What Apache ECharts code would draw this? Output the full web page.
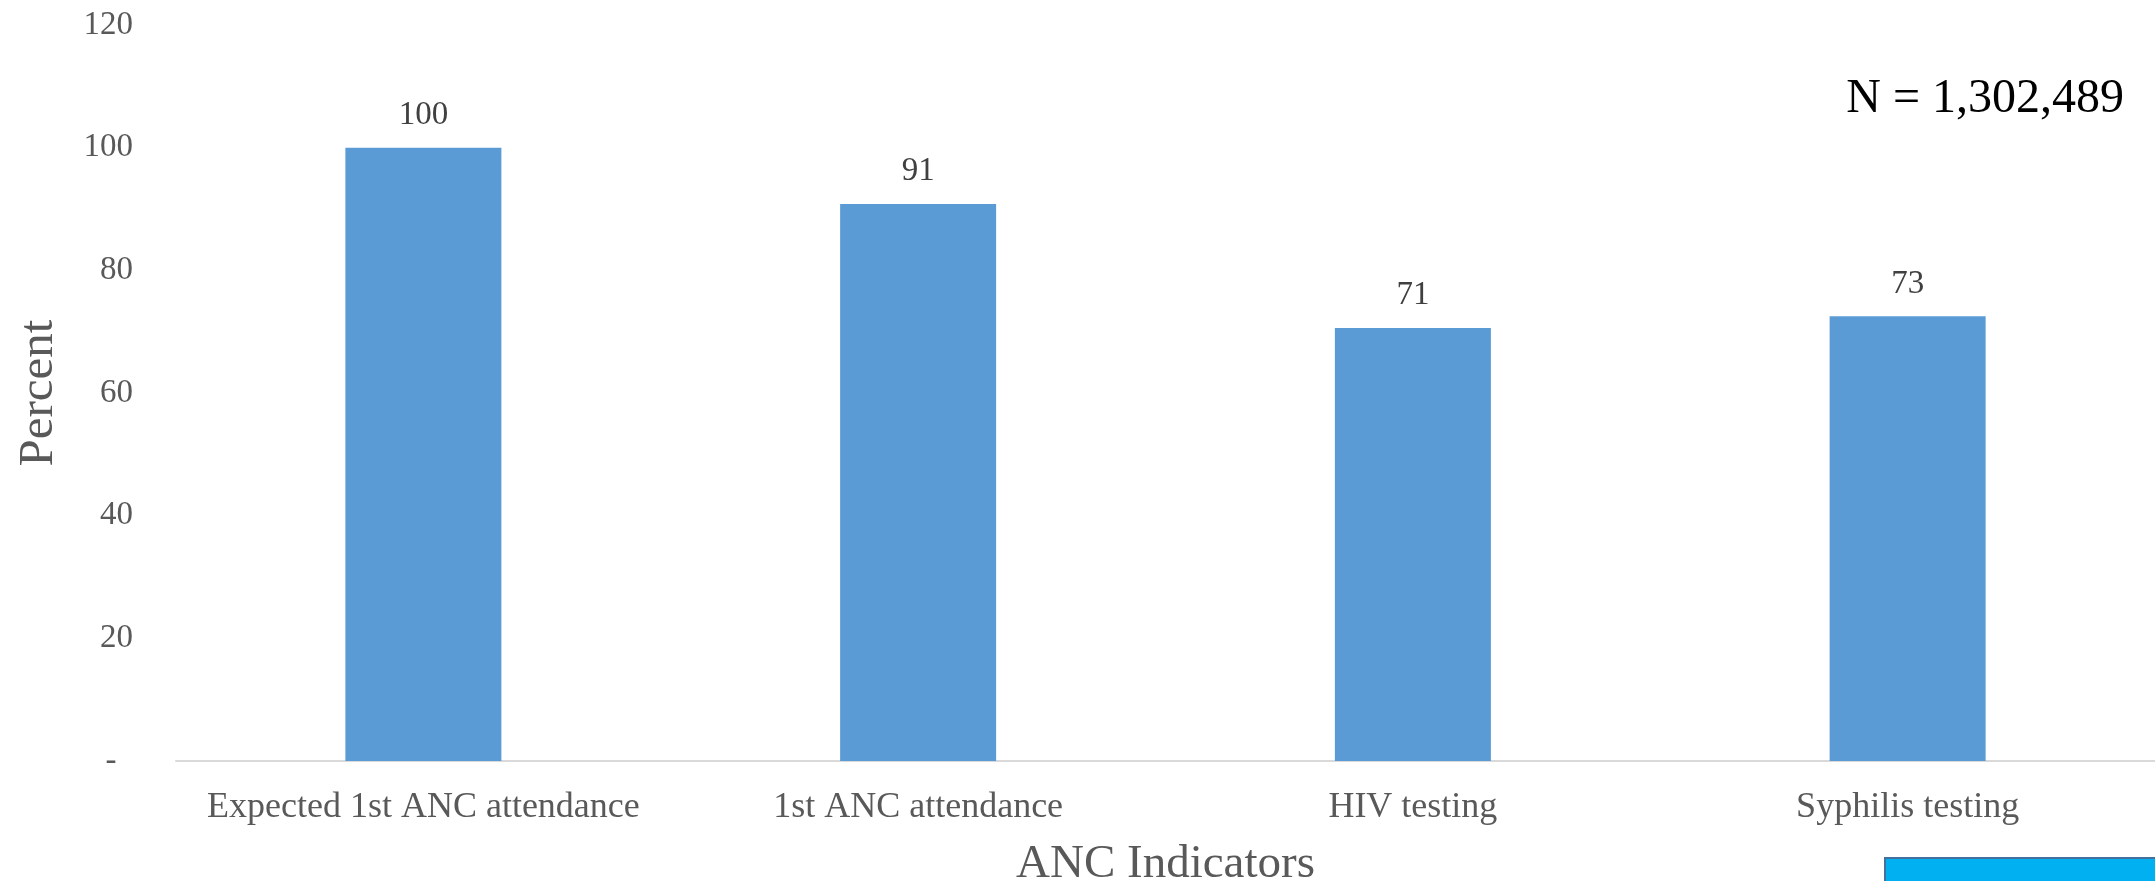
<!DOCTYPE html>
<html>
<head>
<meta charset="utf-8">
<script src="https://cdn.jsdelivr.net/npm/echarts@6/dist/echarts.min.js"></script>
<style>
html,body{margin:0;padding:0;background:#fff;}
#chart{width:2155px;height:881px;}
</style>
</head>
<body>
<div id="chart"></div>
<script>
const categories = ['Expected 1st ANC attendance', '1st ANC attendance', 'HIV testing', 'Syphilis testing'];
const percentValues = [100, 90.8, 70.6, 72.5];
const yTicks = [0, 20, 40, 60, 80, 100, 120];
const xAxisTitle = 'ANC Indicators';
const yAxisTitle = 'Percent';
const noteText = 'N = 1,302,489';

const FONT = '"Liberation Serif", "Times New Roman", serif';
const chart = echarts.init(document.getElementById('chart'), null, {renderer: 'canvas'});

chart.setOption({
  animation: false,
  backgroundColor: '#ffffff',
  grid: {left: 176, right: 0, top: 25, bottom: 120, containLabel: false, outerBoundsMode: 'none'},
  xAxis: {
    type: 'category',
    data: categories,
    axisLine: {show: true, lineStyle: {color: '#D9D9D9', width: 2}},
    axisTick: {show: false},
    axisLabel: {color: '#595959', fontFamily: FONT, fontSize: 36, margin: 29, interval: 0},
    name: xAxisTitle,
    nameLocation: 'middle',
    nameGap: 80,
    nameTextStyle: {color: '#595959', fontFamily: FONT, fontSize: 47}
  },
  yAxis: {
    type: 'value',
    min: yTicks[0],
    max: yTicks[yTicks.length - 1],
    interval: yTicks[1] - yTicks[0],
    axisLine: {show: false},
    axisTick: {show: false},
    splitLine: {show: false},
    axisLabel: {
      color: '#595959', fontFamily: FONT, fontSize: 33, margin: 43,
      formatter: function (v) { return v === 0 ? '-\u00a0\u00a0' : String(v); }
    },
    name: yAxisTitle,
    nameLocation: 'middle',
    nameGap: 112,
    nameRotate: 90,
    nameTextStyle: {color: '#595959', fontFamily: FONT, fontSize: 49}
  },
  series: [{
    type: 'bar',
    data: percentValues,
    barWidth: 156,
    itemStyle: {color: '#5B9BD5'},
    label: {
      show: true,
      position: 'top',
      distance: 16,
      color: '#404040',
      fontFamily: FONT,
      fontSize: 33,
      formatter: function (p) { return String(Math.round(p.value)); }
    }
  }],
  graphic: [
    {
      type: 'text',
      right: 31,
      top: 75,
      style: {text: noteText, fill: '#000000', font: '48px ' + FONT}
    },
    {
      type: 'rect',
      shape: {x: 1885, y: 858, width: 290, height: 40},
      style: {fill: '#00B0F0', stroke: '#41719C', lineWidth: 2}
    }
  ]
});
</script>
</body>
</html>
